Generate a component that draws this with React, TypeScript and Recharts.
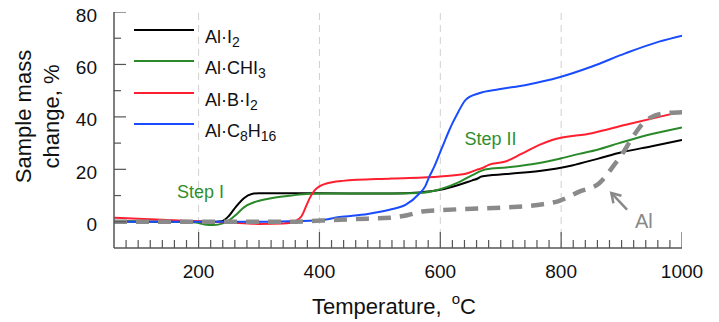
import React from "react";
import {
  ComposedChart,
  Line,
  Scatter,
  XAxis,
  YAxis,
  ReferenceLine,
  ReferenceDot,
  Legend,
} from "recharts";

const FONT = "'Liberation Sans', Arial, sans-serif";

// temperature (°C) / mass change (%)
const alI2T = [60, 150, 220, 238, 250, 262, 275, 288, 300, 350, 450, 520, 565, 600, 630, 653, 662, 668, 709, 764, 818, 860, 900, 950, 1000];
const alI2V = [0.2, 0, 0, 0.2, 2.2, 5.8, 9, 10.6, 10.9, 10.9, 10.8, 10.8, 11.2, 12.2, 14, 15.8, 16.5, 17.3, 18.2, 19.4, 21.5, 24, 26.5, 28.8, 31.2];

const alChi3T = [60, 150, 195, 210, 225, 240, 250, 262, 275, 295, 320, 350, 383, 420, 500, 565, 600, 630, 653, 676, 709, 764, 800, 830, 860, 896, 950, 1000];
const alChi3V = [0.2, 0, -0.3, -1, -1.2, -0.6, 0.5, 2.7, 5.5, 7.7, 9, 9.9, 10.7, 10.8, 10.8, 11, 12.4, 15, 17.8, 20, 20.7, 22.4, 24.2, 25.9, 27.5, 30, 33.5, 36];

const alBI2T = [60, 120, 200, 250, 300, 340, 360, 370, 378, 385, 392, 400, 410, 438, 520, 600, 640, 660, 670, 680, 708, 735, 764, 785, 851, 907, 962, 1000];
const alBI2V = [1.5, 1, 0.2, -0.3, -0.8, -0.7, 0.3, 2, 6, 9.5, 12, 13.5, 14.5, 15.6, 16.5, 17.3, 18.2, 19.8, 20.5, 21.7, 23, 26, 29.3, 31.2, 33.8, 37, 40, 42];

const alC8H16T = [60, 200, 300, 350, 400, 433, 480, 516, 543, 565, 575, 582, 590, 598, 606, 615, 620, 630, 642, 664, 697, 742, 797, 851, 907, 962, 1000];
const alC8H16V = [0, 0, 0, 0.2, 0.6, 1.8, 3, 4.6, 6.5, 10.7, 13.5, 17.3, 21, 25.5, 30, 35, 37.5, 42, 46.5, 49, 50.5, 52.2, 55.1, 59.2, 64.3, 68.7, 71];

const alT = [60, 200, 350, 433, 480, 516, 545, 570, 600, 653, 709, 764, 797, 830, 863, 890, 900, 915, 925, 935, 950, 970, 1000];
const alV = [0, 0, 0, 0.8, 1.2, 1.5, 2.5, 3.9, 4.4, 5, 5.5, 6.5, 8, 11.5, 14.7, 22.4, 25.5, 31, 34.5, 37.5, 40, 41.3, 41.8];

const X_MIN = 60;
const X_MAX = 1000;
const Y_MIN = -10;
const Y_MAX = 80;
const xMinorTicks = Array.from({ length: 47 }, (_, i) => 80 + i * 20);
const yTicks = [0, 10, 20, 30, 40, 50, 60, 70, 80];
const gridX = [200, 400, 600, 800];

const zip = (t: number[], v: number[]) => t.map((x, i) => ({ t: x, v: v[i] }));

// label parts: even index = normal text, odd index = subscript
const series = [
  { key: "alI2", label: ["Al·I", "2"], color: "#000000", width: 2, data: zip(alI2T, alI2V) },
  { key: "alChi3", label: ["Al·CHI", "3"], color: "#2a8a2a", width: 2, data: zip(alChi3T, alChi3V) },
  { key: "alBI2", label: ["Al·B·I", "2"], color: "#ff1f30", width: 2, data: zip(alBI2T, alBI2V) },
  { key: "alC8H16", label: ["Al·C", "8", "H", "16"], color: "#1a4cff", width: 2, data: zip(alC8H16T, alC8H16V) },
];
const alData = zip(alT, alV);

// tick anchors on the bottom and left frame edges
const xTickData = xMinorTicks.map((t) => ({ t, v: Y_MIN }));
const yTickData = yTicks.map((v) => ({ t: X_MIN, v }));

const XTickMark = (p: any) => {
  const len = p.payload.t % 200 === 0 ? 16 : 8;
  return <path d={`M${p.cx},${p.cy}v${-len}`} stroke="#555" strokeWidth={1.2} fill="none" />;
};
const YTickMark = (p: any) => {
  const len = p.payload.v % 20 === 0 ? 12 : 7;
  return <path d={`M${p.cx},${p.cy}h${len}`} stroke="#555" strokeWidth={1.2} fill="none" />;
};

const renderXTick = (props: any) => {
  const { x, y, payload } = props;
  if (payload.value % 200 !== 0) return <g key={`xt-${payload.value}`} />;
  return (
    <text key={`xt-${payload.value}`} x={x} y={y + 30} textAnchor="middle" fontSize={19} fill="#111" fontFamily={FONT}>
      {payload.value}
    </text>
  );
};

const renderYTick = (props: any) => {
  const { x, y, payload } = props;
  if (payload.value % 20 !== 0) return <g key={`yt-${payload.value}`} />;
  return (
    <text key={`yt-${payload.value}`} x={x - 17} y={y + 9.5} textAnchor="end" fontSize={19} fill="#111" fontFamily={FONT}>
      {payload.value}
    </text>
  );
};

const renderLegend = () => (
  <div style={{ position: "relative", width: 220, height: 130, fontFamily: FONT, color: "#111" }}>
    {series.map((s, i) => (
      <div key={s.key} style={{ position: "absolute", left: 0, top: i * 31.3 }}>
        <div style={{ position: "absolute", left: 0, top: 0, width: 60, borderTop: `2px solid ${s.color}` }} />
        <div style={{ position: "absolute", left: 71, top: -2, fontSize: 18, lineHeight: "20px", whiteSpace: "nowrap" }}>
          {s.label.map((p, j) =>
            j % 2 === 1 ? (
              <span key={j} style={{ fontSize: 14, verticalAlign: "-4px" }}>{p}</span>
            ) : (
              <span key={j}>{p}</span>
            )
          )}
        </div>
      </div>
    ))}
  </div>
);

export default function App() {
  return (
    <div style={{ width: 719, height: 322, background: "#fff" }}>
      <style>{`body{margin:0}`}</style>
      <ComposedChart width={719} height={322} margin={{ top: 12, right: 37, left: 14, bottom: 14 }}>
        <defs>
          <marker id="arrowHead" markerUnits="userSpaceOnUse" markerWidth={14} markerHeight={14} refX={11} refY={7} orient="auto">
            <path d="M2,1.5 L11,7 L2,12.5" fill="none" stroke="#888" strokeWidth={2.5} />
          </marker>
        </defs>
        {gridX.map((g) => (
          <ReferenceLine key={`g${g}`} x={g} stroke="#d0d0d0" strokeDasharray="7 5" />
        ))}
        <XAxis
          type="number"
          dataKey="t"
          domain={[X_MIN, X_MAX]}
          ticks={xMinorTicks}
          interval={0}
          height={60}
          axisLine={{ stroke: "#555", strokeWidth: 1.5 }}
          tickLine={false}
          tickSize={0}
          tickMargin={0}
          tick={renderXTick}
          allowDataOverflow
          label={{
            content: () => (
              <text x={394} y={314} textAnchor="middle" fontSize={22} fill="#111" fontFamily={FONT}>
                <tspan>Temperature,</tspan>
                <tspan dx={10} dy={-10} fontSize={15}>o</tspan>
                <tspan dy={10}>C</tspan>
              </text>
            ),
          }}
        />
        <XAxis xAxisId="top" orientation="top" type="number" domain={[X_MIN, X_MAX]} height={0}
          axisLine={{ stroke: "#555", strokeWidth: 1.5 }} tick={false} tickLine={false} />
        <YAxis
          type="number"
          dataKey="v"
          domain={[Y_MIN, Y_MAX]}
          ticks={yTicks}
          interval={0}
          width={100}
          axisLine={{ stroke: "#555", strokeWidth: 1.5 }}
          tickLine={false}
          tickSize={0}
          tickMargin={0}
          tick={renderYTick}
          allowDataOverflow
          label={{
            content: () => (
              <text transform="translate(31,116.5) rotate(-90)" textAnchor="middle" fontSize={22} fill="#111" fontFamily={FONT}>
                <tspan x={0} dy={0}>Sample mass</tspan>
                <tspan x={0} dy={28}>change, %</tspan>
              </text>
            ),
          }}
        />
        <YAxis yAxisId="right" orientation="right" type="number" domain={[Y_MIN, Y_MAX]} width={0}
          axisLine={{ stroke: "#555", strokeWidth: 1.5 }} tick={false} tickLine={false} />
        <Scatter data={xTickData} dataKey="v" shape={XTickMark} isAnimationActive={false} legendType="none" />
        <Scatter data={yTickData} dataKey="v" shape={YTickMark} isAnimationActive={false} legendType="none" />
        {series.map((s) => (
          <Line
            key={s.key}
            data={s.data}
            dataKey="v"
            type="monotone"
            stroke={s.color}
            strokeWidth={s.width}
            dot={false}
            activeDot={false}
            isAnimationActive={false}
          />
        ))}
        <Line
          data={alData}
          dataKey="v"
          type="monotone"
          stroke="#8a8a8a"
          strokeWidth={4.5}
          strokeDasharray="13 9"
          dot={false}
          activeDot={false}
          isAnimationActive={false}
        />
        <ReferenceDot x={203} y={11.4} r={0} fill="none" stroke="none"
          label={{ value: "Step I", position: "center", fill: "#2f8f2f", fontSize: 18, fontFamily: FONT }} />
        <ReferenceDot x={683} y={31.6} r={0} fill="none" stroke="none"
          label={{ value: "Step II", position: "center", fill: "#2f8f2f", fontSize: 18, fontFamily: FONT }} />
        <ReferenceDot x={937} y={0.4} r={0} fill="none" stroke="none"
          label={{ value: "Al", position: "center", fill: "#888", fontSize: 20, fontFamily: FONT }} />
        <ReferenceLine
          segment={[{ x: 909, y: 4.6 }, { x: 883, y: 11 }]}
          stroke="#888"
          strokeWidth={2.5}
          markerEnd="url(#arrowHead)"
        />
        <Legend layout="vertical" align="center" verticalAlign="middle"
          wrapperStyle={{ left: 134, top: 29, width: 220, margin: 0 }} content={renderLegend} />
      </ComposedChart>
    </div>
  );
}
